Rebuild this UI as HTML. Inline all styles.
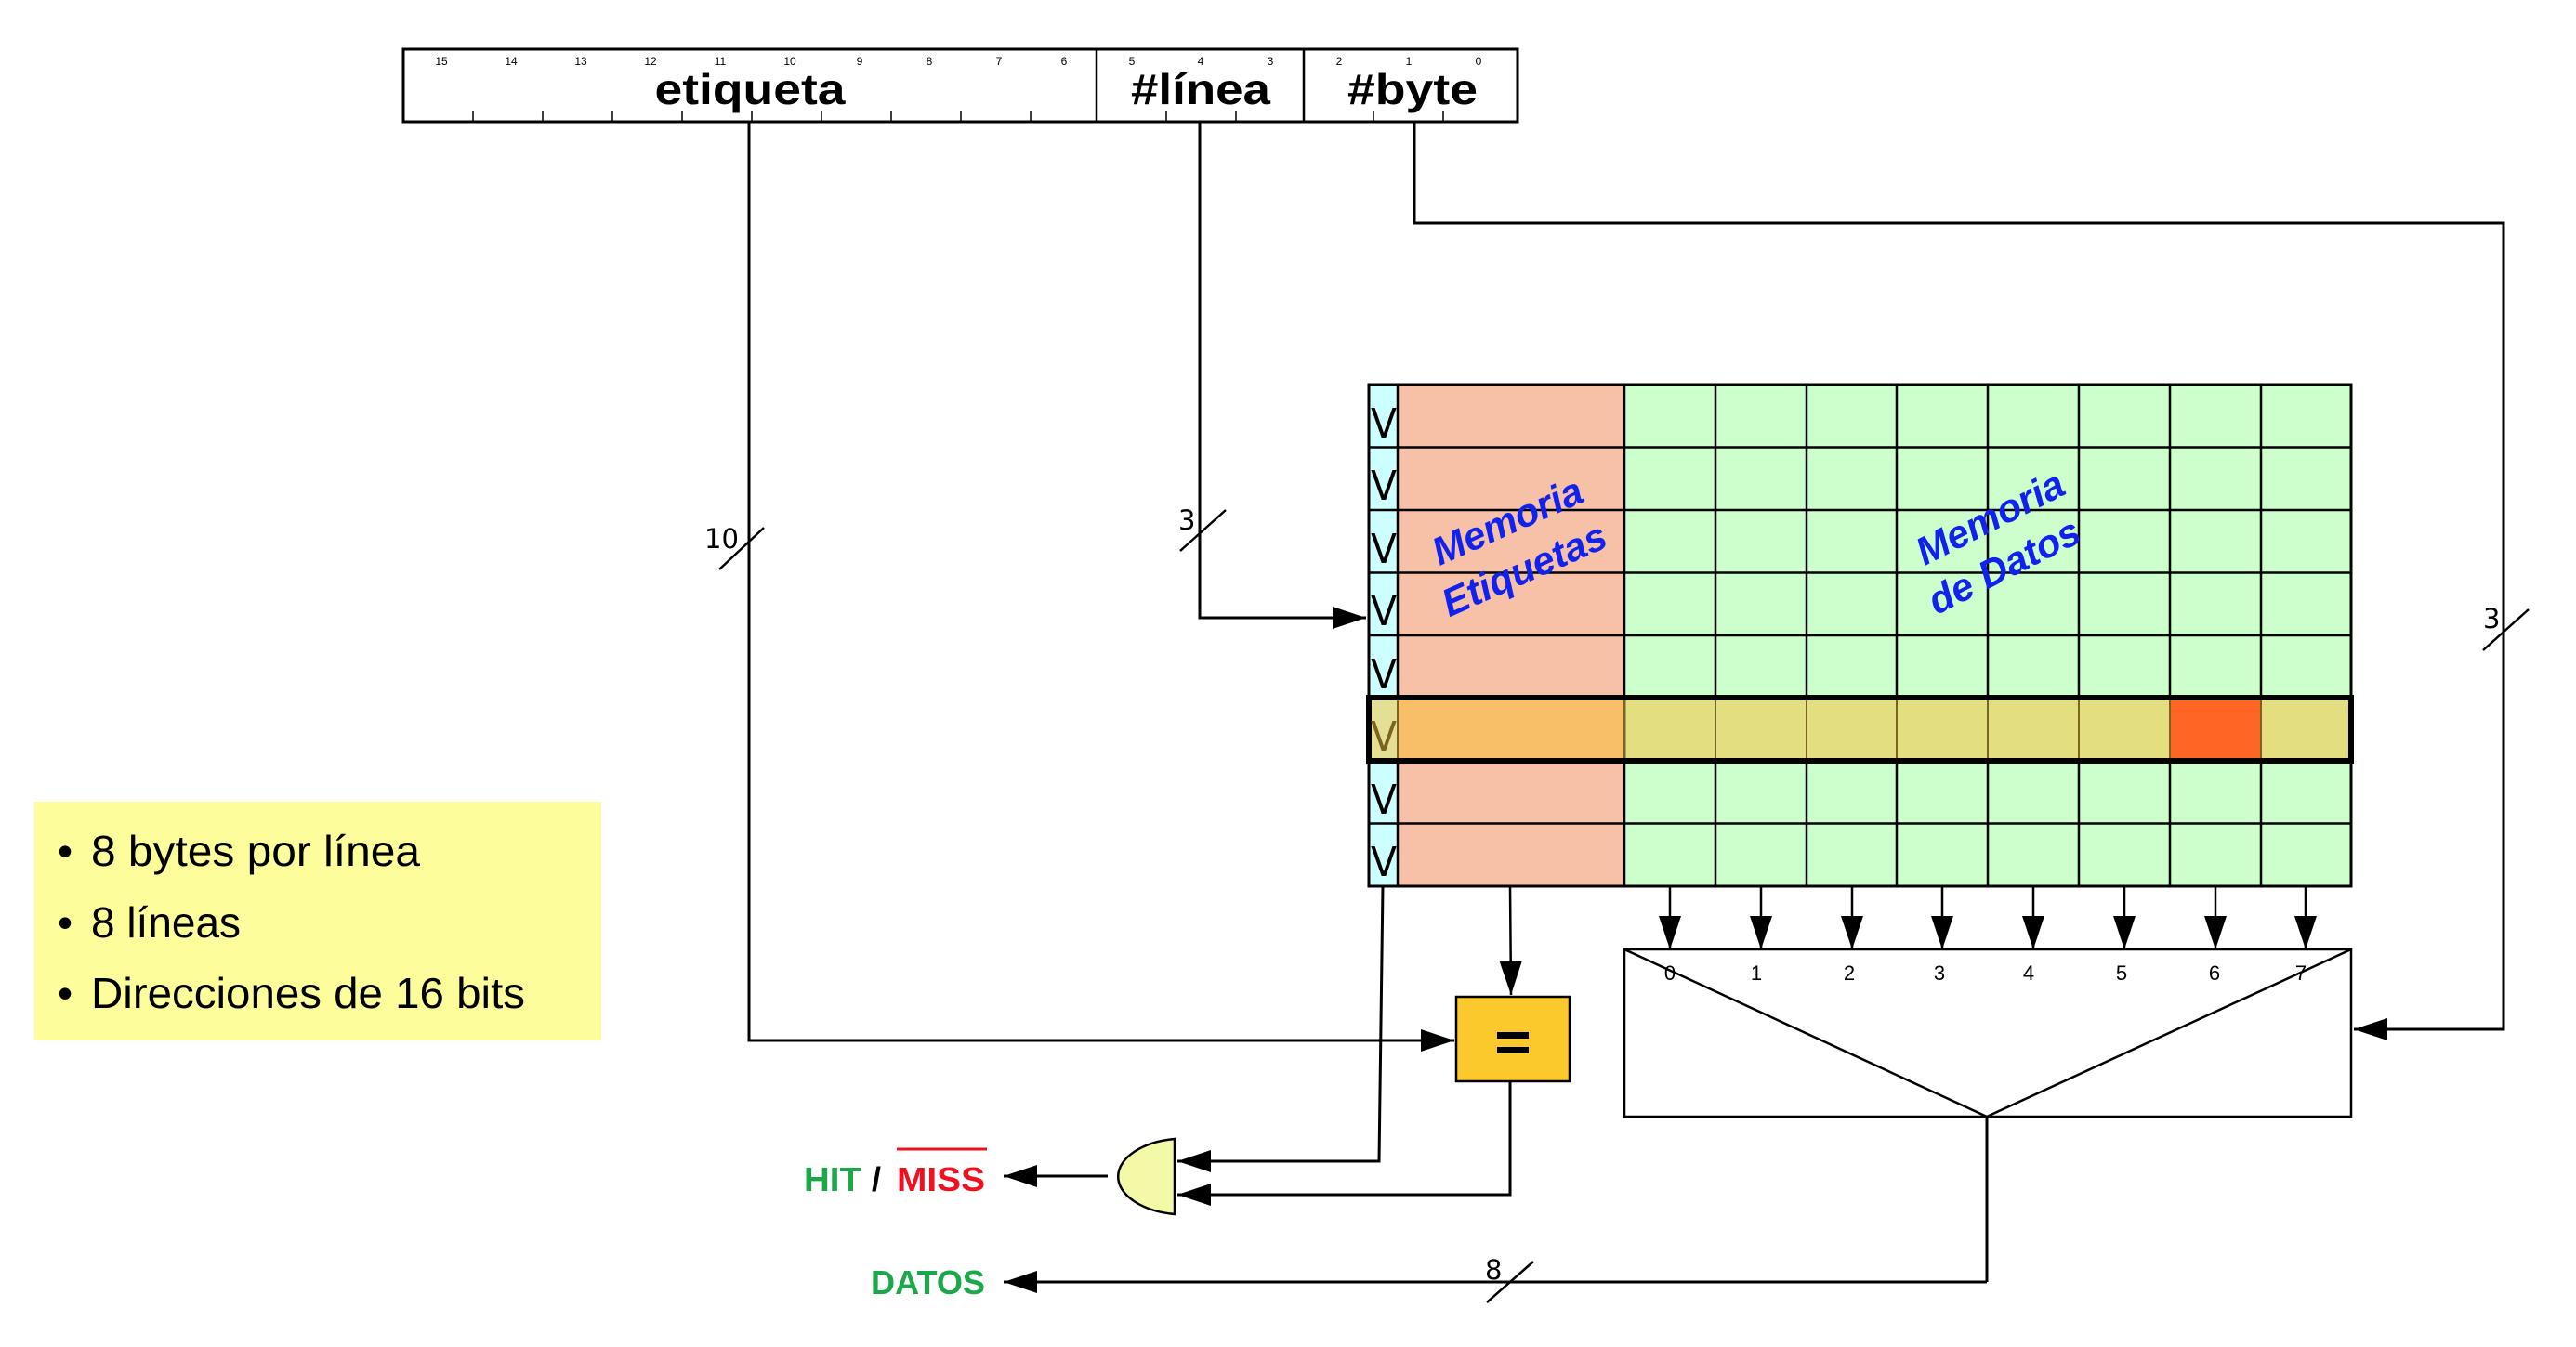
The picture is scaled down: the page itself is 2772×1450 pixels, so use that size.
<!DOCTYPE html>
<html><head><meta charset="utf-8"><style>
html,body{margin:0;padding:0;background:#fff;}
svg{display:block;}
</style></head><body>
<svg width="2772" height="1450" viewBox="0 0 2772 1450" xmlns="http://www.w3.org/2000/svg">
<defs>
<marker id="ah" markerWidth="36" markerHeight="24" refX="36" refY="12" orient="auto" markerUnits="userSpaceOnUse">
<path d="M0,0 L36,12 L0,24 Z" fill="#000"/></marker>
</defs>
<!-- Address box -->
<rect x="434" y="53" width="1199" height="78" fill="#fff" stroke="#000" stroke-width="3"/>
<line x1="1180" y1="53" x2="1180" y2="131" stroke="#000" stroke-width="2.5"/>
<line x1="1403" y1="53" x2="1403" y2="131" stroke="#000" stroke-width="2.5"/>
<g stroke="#000" stroke-width="1.5">
<line x1="509" y1="120" x2="509" y2="131"/><line x1="584" y1="120" x2="584" y2="131"/><line x1="659" y1="120" x2="659" y2="131"/><line x1="734" y1="120" x2="734" y2="131"/><line x1="809" y1="120" x2="809" y2="131"/><line x1="884" y1="120" x2="884" y2="131"/><line x1="959" y1="120" x2="959" y2="131"/><line x1="1034" y1="120" x2="1034" y2="131"/><line x1="1109" y1="120" x2="1109" y2="131"/><line x1="1255" y1="120" x2="1255" y2="131"/><line x1="1330" y1="120" x2="1330" y2="131"/><line x1="1478" y1="120" x2="1478" y2="131"/><line x1="1553" y1="120" x2="1553" y2="131"/>
</g>
<g font-family="Liberation Sans, sans-serif" font-size="12" text-anchor="middle" fill="#000">
<text x="475" y="70">15</text><text x="550" y="70">14</text><text x="625" y="70">13</text><text x="700" y="70">12</text><text x="775" y="70">11</text><text x="850" y="70">10</text><text x="925" y="70">9</text><text x="1000" y="70">8</text><text x="1075" y="70">7</text><text x="1145" y="70">6</text><text x="1218" y="70">5</text><text x="1292" y="70">4</text><text x="1367" y="70">3</text><text x="1441" y="70">2</text><text x="1516" y="70">1</text><text x="1591" y="70">0</text>
</g>
<g font-family="Liberation Sans, sans-serif" font-size="46" font-weight="bold" text-anchor="middle" fill="#000">
<text x="807" y="112" textLength="205" lengthAdjust="spacingAndGlyphs">etiqueta</text>
<text x="1292" y="112" textLength="150" lengthAdjust="spacingAndGlyphs">#línea</text>
<text x="1520" y="112" textLength="140" lengthAdjust="spacingAndGlyphs">#byte</text>
</g>

<!-- Grid -->
<g>
<rect x="1473" y="414" width="31" height="540" fill="#ccffff"/>
<rect x="1504" y="414" width="244" height="540" fill="#f6c1a6"/>
<rect x="1748" y="414" width="782" height="540" fill="#ccffcc"/>
<rect x="1473" y="751" width="31" height="68" fill="#e5df96"/>
<rect x="1504" y="751" width="244" height="68" fill="#f8bf68"/>
<rect x="1748" y="751" width="782" height="68" fill="#e3df80"/>
<rect x="2335" y="751" width="98" height="68" fill="#ff6623"/>
<g stroke="#000" stroke-width="2.5">
<line x1="1473" y1="481.5" x2="2530" y2="481.5"/><line x1="1473" y1="549" x2="2530" y2="549"/><line x1="1473" y1="616.5" x2="2530" y2="616.5"/><line x1="1473" y1="684" x2="2530" y2="684"/><line x1="1473" y1="886.5" x2="2530" y2="886.5"/>
<line x1="1504" y1="414" x2="1504" y2="751"/><line x1="1504" y1="819" x2="1504" y2="954"/>
<line x1="1748" y1="414" x2="1748" y2="954"/>
</g>
<g stroke="#000" stroke-width="2.5">
<line x1="1846" y1="414" x2="1846" y2="751"/><line x1="1944" y1="414" x2="1944" y2="751"/><line x1="2041" y1="414" x2="2041" y2="751"/><line x1="2139" y1="414" x2="2139" y2="751"/><line x1="2237" y1="414" x2="2237" y2="751"/><line x1="2335" y1="414" x2="2335" y2="751"/><line x1="2433" y1="414" x2="2433" y2="751"/>
<line x1="1846" y1="819" x2="1846" y2="954"/><line x1="1944" y1="819" x2="1944" y2="954"/><line x1="2041" y1="819" x2="2041" y2="954"/><line x1="2139" y1="819" x2="2139" y2="954"/><line x1="2237" y1="819" x2="2237" y2="954"/><line x1="2335" y1="819" x2="2335" y2="954"/><line x1="2433" y1="819" x2="2433" y2="954"/>
</g>
<g stroke="#7a6520" stroke-width="2">
<line x1="1504" y1="751" x2="1504" y2="819"/><line x1="1748" y1="751" x2="1748" y2="819"/><line x1="1846" y1="751" x2="1846" y2="819"/><line x1="1944" y1="751" x2="1944" y2="819"/><line x1="2041" y1="751" x2="2041" y2="819"/><line x1="2139" y1="751" x2="2139" y2="819"/><line x1="2237" y1="751" x2="2237" y2="819"/><line x1="2335" y1="751" x2="2335" y2="819"/><line x1="2433" y1="751" x2="2433" y2="819"/>
</g>
<rect x="1473" y="414" width="1057" height="540" fill="none" stroke="#000" stroke-width="3"/>
<rect x="1473" y="751" width="1057" height="68" fill="none" stroke="#000" stroke-width="6"/>
<g font-family="DejaVu Sans, sans-serif" font-size="44" text-anchor="middle" fill="#000">
<text x="1489" y="471" textLength="28" lengthAdjust="spacingAndGlyphs">V</text><text x="1489" y="538" textLength="28" lengthAdjust="spacingAndGlyphs">V</text><text x="1489" y="606" textLength="28" lengthAdjust="spacingAndGlyphs">V</text><text x="1489" y="673" textLength="28" lengthAdjust="spacingAndGlyphs">V</text><text x="1489" y="741" textLength="28" lengthAdjust="spacingAndGlyphs">V</text><text x="1489" y="808" fill="#7a6520" textLength="28" lengthAdjust="spacingAndGlyphs">V</text><text x="1489" y="876" textLength="28" lengthAdjust="spacingAndGlyphs">V</text><text x="1489" y="943" textLength="28" lengthAdjust="spacingAndGlyphs">V</text>
</g>
<g font-family="Liberation Sans, sans-serif" font-size="42" font-weight="bold" font-style="italic" fill="#1122ee" text-anchor="middle">
<text transform="translate(1628,574) rotate(-24)">Memoria</text>
<text transform="translate(1646,626) rotate(-24)">Etiquetas</text>
<text transform="translate(2148,570) rotate(-27)">Memoria</text>
<text transform="translate(2163,622) rotate(-27)">de Datos</text>
</g>
</g>

<!-- column arrows -->
<g stroke="#000" stroke-width="2.5">
<line x1="1797" y1="954" x2="1797" y2="1022" marker-end="url(#ah)"/>
<line x1="1895" y1="954" x2="1895" y2="1022" marker-end="url(#ah)"/>
<line x1="1993" y1="954" x2="1993" y2="1022" marker-end="url(#ah)"/>
<line x1="2090" y1="954" x2="2090" y2="1022" marker-end="url(#ah)"/>
<line x1="2188" y1="954" x2="2188" y2="1022" marker-end="url(#ah)"/>
<line x1="2286" y1="954" x2="2286" y2="1022" marker-end="url(#ah)"/>
<line x1="2384" y1="954" x2="2384" y2="1022" marker-end="url(#ah)"/>
<line x1="2481" y1="954" x2="2481" y2="1022" marker-end="url(#ah)"/>
</g>
<rect x="1748" y="1022" width="782" height="180" fill="#fff" stroke="#000" stroke-width="2.5"/>
<polyline points="1748,1022 2138,1202 2530,1022" fill="none" stroke="#000" stroke-width="2.5"/>
<g font-family="Liberation Sans, sans-serif" font-size="22" text-anchor="middle" fill="#000">
<text x="1797" y="1055">0</text><text x="1890" y="1055">1</text><text x="1990" y="1055">2</text><text x="2087" y="1055">3</text><text x="2183" y="1055">4</text><text x="2283" y="1055">5</text><text x="2383" y="1055">6</text><text x="2476" y="1055">7</text>
</g>

<!-- address connectors -->
<g stroke="#000" stroke-width="3" fill="none">
<polyline points="806,131 806,1120 1565,1120" marker-end="url(#ah)"/>
<polyline points="1291,131 1291,665 1470,665" marker-end="url(#ah)"/>
<polyline points="1522,131 1522,240 2694,240 2694,1108 2533,1108" marker-end="url(#ah)"/>
<line x1="2138" y1="1202" x2="2138" y2="1380"/>
<line x1="2138" y1="1380" x2="1080" y2="1380" marker-end="url(#ah)"/>
</g>
<g stroke="#000" stroke-width="2.5">
<line x1="1270" y1="593" x2="1319" y2="549"/>
<line x1="774" y1="613" x2="822" y2="568"/>
<line x1="2672" y1="700" x2="2721" y2="656"/>
<line x1="1600" y1="1402" x2="1650" y2="1358"/>
</g>
<g font-family="DejaVu Sans, sans-serif" font-size="29" fill="#000">
<text x="1268" y="570">3</text>
<text x="758" y="590">10</text>
<text x="2672" y="676">3</text>
<text x="1598" y="1377">8</text>
</g>

<!-- equal comparator -->
<line x1="1625" y1="954" x2="1626" y2="1071" stroke="#000" stroke-width="2.5" marker-end="url(#ah)"/>
<rect x="1567" y="1073" width="122" height="91" fill="#fcc92c" stroke="#000" stroke-width="2.5"/>
<rect x="1611" y="1111" width="34" height="7" fill="#000"/>
<rect x="1611" y="1127" width="34" height="7" fill="#000"/>

<g stroke="#000" stroke-width="3" fill="none">
<polyline points="1488,954 1484,1250 1267,1250" marker-end="url(#ah)"/>
<polyline points="1625,1164 1625,1286 1267,1286" marker-end="url(#ah)"/>
<line x1="1192" y1="1266" x2="1080" y2="1266" marker-end="url(#ah)"/>
</g>
<path d="M1264,1226 L1264,1307 A72,41 0 0 1 1264,1226 Z" fill="#f3f9a6" stroke="#000" stroke-width="2.5"/>

<g font-family="Liberation Sans, sans-serif" font-size="36" font-weight="bold">
<text x="865" y="1282" fill="#1aa84a" textLength="62" lengthAdjust="spacingAndGlyphs">HIT</text>
<text x="938" y="1282" fill="#000">/</text>
<text x="965" y="1282" fill="#ee1122" textLength="95" lengthAdjust="spacingAndGlyphs">MISS</text>
<text x="937" y="1393" fill="#1aa84a" textLength="123" lengthAdjust="spacingAndGlyphs">DATOS</text>
</g>
<line x1="965" y1="1237" x2="1062" y2="1237" stroke="#ee1122" stroke-width="3"/>

<!-- note -->
<rect x="37" y="863" width="610" height="257" fill="#fdfd9c"/>
<g font-family="Liberation Sans, sans-serif" font-size="46" fill="#000">
<text x="62" y="932">•</text>
<text x="98" y="932" textLength="354" lengthAdjust="spacingAndGlyphs">8 bytes por línea</text>
<text x="62" y="1009">•</text>
<text x="98" y="1009" textLength="161" lengthAdjust="spacingAndGlyphs">8 líneas</text>
<text x="62" y="1085">•</text>
<text x="98" y="1085" textLength="467" lengthAdjust="spacingAndGlyphs">Direcciones de 16 bits</text>
</g>
</svg>
</body></html>
